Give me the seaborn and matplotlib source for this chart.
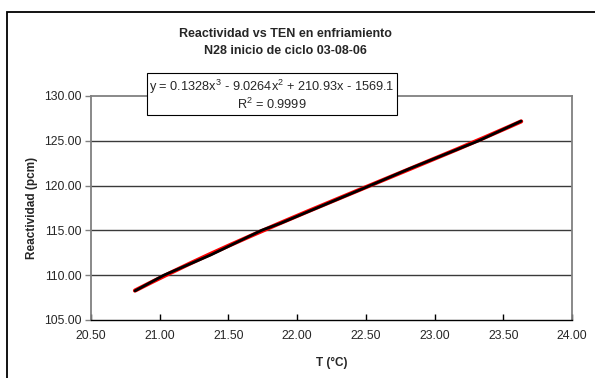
import numpy as np
import pandas as pd
import matplotlib
matplotlib.use('Agg')
import matplotlib.pyplot as plt
import matplotlib.patches as patches
import seaborn as sns

# Values
temp_c = [20.82, 21.03, 21.37, 21.74, 21.88, 22.53, 22.82, 23.32, 23.63]
reactividad = [108.25, 110.0, 112.25, 115.0, 115.8, 120.0, 121.9, 125.0, 127.2]
y_ticks = [105, 110, 115, 120, 125, 130]
x_ticks = [20.5, 21.0, 21.5, 22.0, 22.5, 23.0, 23.5, 24.0]

title = 'Reactividad vs TEN en enfriamiento\nN28 inicio de ciclo 03-08-06'
equation = 'y = 0.1328x$^3$ - 9.0264x$^2$ + 210.93x - 1569.1'
r2_text = 'R$^2$ = 0.9999'

df = pd.DataFrame({'T': temp_c, 'R': reactividad})

# cubic trendline fitted on the data (as Excel does)
coefs = np.polyfit(df['T'], df['R'], 3)
t_fit = np.linspace(df['T'].min(), df['T'].max(), 200)
df_fit = pd.DataFrame({'T': t_fit, 'R': np.polyval(coefs, t_fit)})

sns.set_style('white')
plt.rcParams['font.family'] = ['Liberation Sans', 'DejaVu Sans']
plt.rcParams['mathtext.fontset'] = 'custom'
plt.rcParams['mathtext.rm'] = 'Liberation Sans'
plt.rcParams['mathtext.it'] = 'Liberation Sans'

fig = plt.figure(figsize=(5.95, 3.78), dpi=100)
ax = fig.add_axes([91 / 595, 1 - 320 / 378, (572 - 91) / 595, (320 - 96) / 378])

sns.lineplot(data=df_fit, x='T', y='R', color='red', lw=3.0, ax=ax, zorder=3)
sns.lineplot(data=df, x='T', y='R', color='black', lw=2.0, ax=ax, zorder=4)

ax.set_xlim(20.5, 24.0)
ax.set_ylim(105, 130)
ax.set_xticks(x_ticks)
ax.set_yticks(y_ticks)
ax.set_xticklabels([f'{v:.2f}' for v in x_ticks], fontsize=8.8)
ax.set_yticklabels([f'{v:.2f}' for v in y_ticks], fontsize=8.8)
ax.tick_params(axis='y', direction='out', length=4, width=1, color='#808080', pad=3, left=True)
ax.tick_params(axis='x', direction='in', length=4, width=1, color='black', pad=7, bottom=True)

for v in y_ticks[1:-1]:
    ax.axhline(v, color='#3a3a3a', lw=1.0, zorder=1)

for side in ['top', 'right', 'left']:
    ax.spines[side].set_color('#808080')
    ax.spines[side].set_linewidth(1.3)
ax.spines['bottom'].set_color('black')
ax.spines['bottom'].set_linewidth(1.0)

ax.set_xlabel('T (°C)', fontsize=8.5, fontweight='bold')
ax.set_ylabel('Reactividad (pcm)', fontsize=8.5, fontweight='bold')
ax.xaxis.set_label_coords(0.5, -0.165)
ax.yaxis.set_label_coords(-0.11, 0.5)

fig.text(285 / 595, 1 - 42.5 / 378, title, ha='center', va='center',
         fontsize=9, fontweight='bold', linespacing=1.6)

# equation box
fig.text(272 / 595, 1 - 95 / 378, equation + '\n' + r2_text, ha='center', va='center',
         fontsize=9.2, linespacing=1.1, zorder=10,
         bbox=dict(boxstyle='square,pad=0.2', fc='white', ec='black', lw=0.8))

# outer chart frame
fig.patches.append(patches.Rectangle((7 / 595, -0.1), 2, 1 - 12 / 378 + 0.1,
                                     transform=fig.transFigure, fill=False,
                                     ec='black', lw=1.3))

fig.savefig('out.png', dpi=100)
